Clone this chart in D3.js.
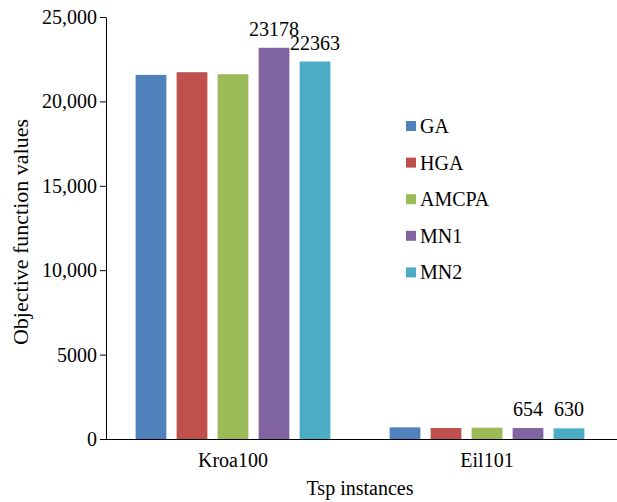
<!DOCTYPE html>
<html>
<head>
<meta charset="utf-8">
<script src="https://cdn.jsdelivr.net/npm/d3@7/dist/d3.min.js"></script>
<style>
  html, body { margin: 0; padding: 0; background: #fff; }
  svg { display: block; font-family: "Liberation Serif", "Times New Roman", serif; }
</style>
</head>
<body>
<svg id="chart" width="617" height="502"></svg>
<script>
// Objective function values per TSP instance and algorithm
const instances = ["Kroa100", "Eil101"];
const algorithms = ["GA", "HGA", "AMCPA", "MN1", "MN2"];
const valuesGA    = [21570, 690];
const valuesHGA   = [21730, 650];
const valuesAMCPA = [21610, 670];
const valuesMN1   = [23178, 654];
const valuesMN2   = [22363, 630];
const colors = ["#4F81BD", "#C0504D", "#9BBB59", "#8064A2", "#4BACC6"];
const labeledAlgorithms = ["MN1", "MN2"];
const yTickValues = [0, 5000, 10000, 15000, 20000, 25000];
const yTickLabels = ["0", "5000", "10,000", "15,000", "20,000", "25,000"];

const seriesValues = [valuesGA, valuesHGA, valuesAMCPA, valuesMN1, valuesMN2];
const rows = [];
instances.forEach((inst, i) => {
  algorithms.forEach((alg, j) => {
    rows.push({ inst, alg, value: seriesValues[j][i], color: colors[j] });
  });
});

const svg = d3.select("#chart");
const plot = { left: 106, right: 614, top: 17, bottom: 439 };

const x = d3.scaleBand().domain(instances).range([plot.left, plot.right]);
const groupWidth = 205;
const xInner = d3.scaleBand().domain(algorithms)
  .range([-groupWidth / 2, groupWidth / 2])
  .paddingInner(0.25).paddingOuter(0.125);
const y = d3.scaleLinear().domain([0, 25000]).range([plot.bottom, plot.top]);

// Bars
svg.append("g").selectAll("rect").data(rows).join("rect")
  .attr("x", d => x(d.inst) + x.bandwidth() / 2 + xInner(d.alg))
  .attr("y", d => y(d.value))
  .attr("width", xInner.bandwidth())
  .attr("height", d => y(0) - y(d.value))
  .attr("fill", d => d.color);

// Value labels above the MN1 / MN2 bars
svg.append("g").selectAll("text")
  .data(rows.filter(d => labeledAlgorithms.includes(d.alg)))
  .join("text")
  .attr("x", d => x(d.inst) + x.bandwidth() / 2 + xInner(d.alg) + xInner.bandwidth() / 2)
  .attr("y", d => y(d.value) - 12)
  .attr("text-anchor", "middle")
  .attr("font-size", 20)
  .attr("fill", "#000")
  .text(d => d.value);

// Y axis
const yAxis = svg.append("g")
  .attr("transform", `translate(${plot.left},0)`)
  .call(d3.axisLeft(y).tickValues(yTickValues)
    .tickFormat((d, i) => yTickLabels[i]).tickSize(6).tickPadding(3).tickSizeOuter(0));
yAxis.selectAll("text").attr("font-size", 20).attr("font-family", "Liberation Serif, serif").attr("fill", "#000");
yAxis.selectAll("line, path").attr("stroke", "#000");

// X axis
const xAxis = svg.append("g")
  .attr("transform", `translate(0,${plot.bottom})`)
  .call(d3.axisBottom(x).tickSize(0).tickPadding(13.5).tickSizeOuter(0));
xAxis.select(".domain").attr("d", `M${plot.left},0.5H617`).attr("stroke", "#000");
xAxis.selectAll("text").attr("font-size", 20).attr("font-family", "Liberation Serif, serif").attr("fill", "#000");

// Axis titles
svg.append("text")
  .attr("x", (plot.left + plot.right) / 2)
  .attr("y", 495)
  .attr("text-anchor", "middle")
  .attr("font-size", 20)
  .text("Tsp instances");

svg.append("text")
  .attr("transform", "translate(28,232) rotate(-90)")
  .attr("text-anchor", "middle")
  .attr("font-size", 22)
  .text("Objective function values");

// Legend
const legend = svg.append("g").attr("transform", "translate(406,121)");
const items = legend.selectAll("g").data(algorithms).join("g")
  .attr("transform", (d, i) => `translate(0,${i * 36.6})`);
items.append("rect").attr("width", 10).attr("height", 10)
  .attr("fill", (d, i) => colors[i]);
items.append("text").attr("x", 14).attr("y", 12)
  .attr("font-size", 20).text(d => d);
</script>
</body>
</html>
